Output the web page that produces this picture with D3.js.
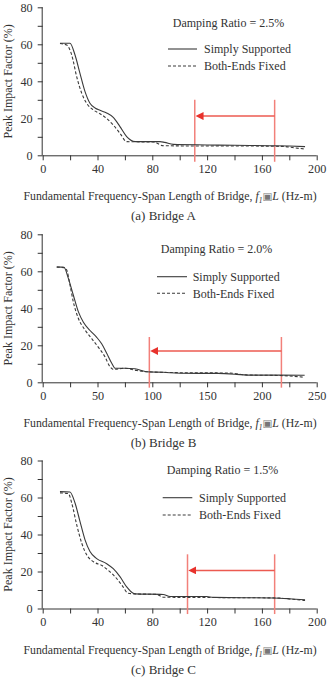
<!DOCTYPE html>
<html><head><meta charset="utf-8">
<script src="https://cdn.jsdelivr.net/npm/d3@7"></script>
<style>
html,body{margin:0;padding:0;background:#fff;}
text{font-family:"Liberation Serif","Times New Roman",serif;fill:#333;}
</style></head>
<body>
<svg id="c" width="330" height="685"></svg>
<script>
// ---------------- DATA ----------------
const panelCaptions = ["(a) Bridge A", "(b) Bridge B", "(c) Bridge C"];
const dampingLabels = ["Damping Ratio = 2.5%", "Damping Ratio = 2.0%", "Damping Ratio = 1.5%"];
const seriesNames = ["Simply Supported", "Both-Ends Fixed"];
const xMaxes = [200, 250, 200];
const xTickLabelSteps = [40, 50, 40];
const xMinorSteps = [20, 25, 20];
const yTickValues = [0, 20, 40, 60, 80];

// Bridge A
const ssA = [[12.6,60.6],[19.9,60.6],[23.6,54.2],[27.2,44.3],[30.9,34.4],[34.5,28.1],[38.2,25.6],[41.8,24.3],[46.7,22.9],[51.5,20.5],[56.4,15.5],[61.3,10.1],[67.4,7.4],[75,7.4],[85.6,7.4],[89,7],[95.3,5.9],[120,5.6],[140,5.4],[168.3,5.2],[180,5],[191.5,4.7]];
const beA = [[12.6,60.4],[17.5,59.6],[21.2,54.2],[24.8,42.5],[28.5,33.5],[32.1,28.1],[37,24.5],[41.8,22.5],[46.7,19.9],[51.5,16.4],[56.4,11.9],[61.3,7.4],[67.4,7.3],[80.7,7.2],[88,5.2],[120,5.0],[150,5.0],[175.6,4.8],[184,4.0],[191.5,3.4]];
// Bridge B
const ssB = [[12.8,62.4],[19.4,62.2],[23.4,56.2],[27.9,47.2],[32.5,38.2],[37,32.6],[43.2,28.0],[49.3,24.3],[53.8,20.8],[58.4,15.7],[63,10.3],[66,7.6],[75,7.6],[84.2,7.3],[94.9,5.7],[110,5.4],[125.3,4.9],[160,4.8],[177,4.3],[186.1,3.9],[215,3.9],[239,3.8]];
const beB = [[12.8,62.2],[19.4,62],[21.9,60.7],[24.9,52.6],[27.9,43.6],[32.5,34.6],[38.6,28.3],[44.7,23.6],[50.7,19.0],[56.8,13.8],[61.4,8.4],[64.4,7.0],[75,7.6],[85.7,6.4],[94.9,5.7],[125,5.2],[170,5.0],[186.1,4.0],[220,3.6],[239,2.7]];
// Bridge C
const ssC = [[12.6,63.2],[19.9,63],[23.6,57],[27.2,47.1],[30.9,37.1],[34.5,30.8],[39.4,27.0],[46.7,24.2],[51.5,21.5],[56.4,17.2],[61.3,11.7],[66.1,8.2],[67.4,7.9],[88,7.6],[92.9,6.5],[119.7,6.5],[124.5,6.0],[168.3,5.7],[180,5.3],[191.5,4.7]];
const beC = [[12.6,62.5],[18.7,62.1],[21.2,57],[24.8,45.3],[28.5,35.3],[32.1,29],[37,25.3],[43.2,23.2],[47.9,20.6],[52.8,17.2],[57.7,12.7],[62.5,8.2],[67.4,7.9],[83.2,7.6],[88,6.1],[130,5.9],[170.7,5.7],[182,5.0],[191.5,4.3]];
const seriesByPanel = [[ssA, beA], [ssB, beB], [ssC, beC]];

// red range markers: [left x, right x, top y, bottom y, arrow y]
const rangeA = [111, 169.3, 30, -3.5, 21.2];
const rangeB = [97.3, 217.8, 24.5, -2.9, 16.9];
const rangeC = [105.7, 169.3, 29.3, -3.0, 20.6];
const ranges = [rangeA, rangeB, rangeC];

// ---------------- LAYOUT ----------------
const svg = d3.select("#c");
const left = 42.7, right = 316.7;
const panelTops = [7.3, 234.3, 460.5];
const plotH = 148;
const legendPos = [
  {damp:[228.5, 23], lineX:[168, 197], y1:49, y2:66, textX:204},
  {damp:[216.5, 249], lineX:[157, 187], y1:276.7, y2:293.3, textX:192.7},
  {damp:[222.5, 470], lineX:[162.7, 192.3], y1:497.7, y2:515, textX:199}
];
const axisColor = "#333";
const fs = 11.8;

svg.append("defs").append("marker")
  .attr("id","arrow").attr("viewBox","0 0 10 10").attr("refX",1).attr("refY",5)
  .attr("markerWidth",8).attr("markerHeight",8).attr("markerUnits","userSpaceOnUse")
  .attr("orient","auto-start-reverse")
  .append("path").attr("d","M0,0 L10,5 L0,10 Z").attr("fill","#e8322c");

panelCaptions.forEach((cap, i) => {
  const top = panelTops[i], bottom = top + plotH;
  const x = d3.scaleLinear().domain([0, xMaxes[i]]).range([left, right]);
  const y = d3.scaleLinear().domain([0, 80]).range([bottom, top]);
  const g = svg.append("g");

  // x axis
  const xMinor = d3.range(0, xMaxes[i] + 0.001, xMinorSteps[i]);
  const xAx = d3.axisBottom(x).tickValues(xMinor).tickSize(5).tickPadding(4)
    .tickFormat(d => (d % xTickLabelSteps[i] === 0 ? d : ""));
  const gx = g.append("g").attr("transform", `translate(0,${bottom})`).call(xAx);
  // y axis
  const yMinor = d3.range(0, 80.001, 10);
  const yAx = d3.axisLeft(y).tickValues(yMinor).tickSize(5).tickPadding(5)
    .tickFormat(d => (yTickValues.includes(d) ? d : ""));
  const gy = g.append("g").attr("transform", `translate(${left},0)`).call(yAx);
  [gx, gy].forEach(a => {
    a.select(".domain").attr("stroke", axisColor).attr("stroke-width", 1);
    a.selectAll(".tick line").attr("stroke", axisColor).attr("stroke-width", 1);
    a.selectAll(".tick text").attr("font-size", 12.2).attr("font-family", '"Liberation Serif",serif').attr("fill", "#333");
  });
  gx.select(".domain").attr("d", `M${left},0.5H${right}`);
  gy.select(".domain").attr("d", `M-0.5,${bottom}V${top}`);

  // red range markers
  const r = ranges[i];
  [r[0], r[1]].forEach(v => {
    g.append("line").attr("x1", x(v)).attr("x2", x(v)).attr("y1", y(r[2])).attr("y2", y(r[3]))
      .attr("stroke", "#f2807a").attr("stroke-width", 1.5);
  });
  g.append("line").attr("x1", x(r[1])).attr("x2", x(r[0]) + 8).attr("y1", y(r[4])).attr("y2", y(r[4]))
    .attr("stroke", "#ec5a50").attr("stroke-width", 1.5).attr("marker-end", "url(#arrow)");

  // series
  const line = d3.line().x(d => x(d[0])).y(d => y(d[1])).curve(d3.curveMonotoneX);
  seriesByPanel[i].forEach((s, k) => {
    g.append("path").datum(s).attr("d", line).attr("fill", "none")
      .attr("stroke", "#3a3a3a").attr("stroke-width", 1.1)
      .attr("stroke-dasharray", k === 1 ? "3,2" : null);
  });

  // legend
  const L = legendPos[i];
  g.append("text").attr("x", L.damp[0]).attr("y", L.damp[1]).attr("dy", "0.35em")
    .attr("text-anchor", "middle").attr("font-size", 12).text(dampingLabels[i]);
  [L.y1, L.y2].forEach((ly, k) => {
    g.append("line").attr("x1", L.lineX[0]).attr("x2", L.lineX[1]).attr("y1", ly).attr("y2", ly)
      .attr("stroke", "#3a3a3a").attr("stroke-width", 1.1).attr("stroke-dasharray", k === 1 ? "3,2" : null);
    g.append("text").attr("x", L.textX).attr("y", ly).attr("dy", "0.35em")
      .attr("font-size", 12).text(seriesNames[k]);
  });

  // y label
  g.append("text").attr("transform", `translate(8,${(top + bottom) / 2}) rotate(-90)`)
    .attr("dy", "0.35em").attr("text-anchor", "middle").attr("font-size", 12)
    .text("Peak Impact Factor (%)");

  // x label
  const xl = g.append("text").attr("x", 170).attr("y", bottom + 41).attr("dy", "0.35em")
    .attr("text-anchor", "middle").attr("font-size", fs);
  xl.append("tspan").text("Fundamental Frequency-Span Length of Bridge, ");
  xl.append("tspan").attr("font-style", "italic").text("f");
  xl.append("tspan").attr("font-size", 7.5).attr("dy", "3").attr("font-style", "italic").text("1");
  xl.append("tspan").attr("dy", "-3").attr("font-family", "DejaVu Sans").attr("font-size", 10.5)
    .style("fill", "#777").text("\u25A3");
  xl.append("tspan").attr("font-style", "italic").text("L");
  xl.append("tspan").text(" (Hz-m)");

  // caption
  g.append("text").attr("x", 163.5).attr("y", bottom + 60.5).attr("dy", "0.35em")
    .attr("text-anchor", "middle").attr("font-size", 13).text(cap);
});
</script>
</body></html>
